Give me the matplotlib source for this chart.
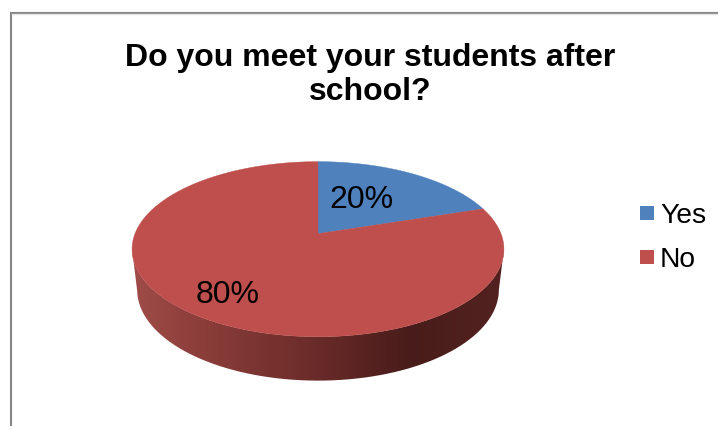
import numpy as np
import matplotlib
matplotlib.use('Agg')
import matplotlib.pyplot as plt
from matplotlib.colors import LinearSegmentedColormap
from matplotlib.patches import PathPatch, Polygon, Rectangle
from matplotlib.path import Path

plt.rcParams['font.family'] = ['Liberation Sans', 'DejaVu Sans']

# data
title = 'Do you meet your students after\nschool?'
labels = ['Yes', 'No']
values = [20, 80]
colors = ['#4F81BD', '#BE4F4C']

# pie geometry in pixels, y goes down
cx, cy = 318, 234.7
k = 0.177


def project(theta, b, a, y0):
    # theta clockwise from the top, v points to the back of the pie
    u = np.sin(theta)
    v = np.cos(theta)
    w = 1 + k * v
    return cx + b * u / w, y0 - a * v / w


fig = plt.figure(figsize=(7.18, 4.27), dpi=100)
ax = fig.add_axes([0, 0, 1, 1])

# chart border
ax.plot([10.5, 10.5, 718], [427, 13.5, 13.5], color='#868686', lw=1.5, solid_joinstyle='miter')
ax.plot([12, 718], [15, 15], color='#e4e4e4', lw=1)

# side wall, front part only
t0 = np.arccos(-k)
front = np.linspace(t0, 2 * np.pi - t0, 300)
x1, y1 = project(front, 183, 84.8, cy)
x2, y2 = project(front, 178, 88, cy + 40)
wall = np.column_stack([np.r_[x1, x2[::-1]], np.r_[y1, y2[::-1]]])
wall_cmap = LinearSegmentedColormap.from_list('wall', [
    (0.0, '#A04C48'), (0.18, '#8C3E3A'), (0.45, '#6F2E2C'),
    (0.75, '#481C1A'), (1.0, '#532220')])
grad = np.linspace(0, 1, 256).reshape(1, -1)
im = ax.imshow(grad, cmap=wall_cmap, extent=[132, 504, 382, 240], aspect='auto', zorder=2)
im.set_clip_path(PathPatch(Path(wall), transform=ax.transData))

# top of the pie
start = 0
for val, col in zip(values, colors):
    end = start + val / sum(values) * 2 * np.pi
    th = np.linspace(start, end, 200)
    x, y = project(th, 183, 84.8, cy)
    pts = np.column_stack([np.r_[cx, x], np.r_[cy, y]])
    ax.add_patch(Polygon(pts, closed=True, facecolor=col, edgecolor=col, lw=0.3, zorder=3))
    start = end

# data labels
ax.text(361.5, 200, '%d%%' % values[0], fontsize=23, ha='center', va='center', zorder=4)
ax.text(227.5, 295, '%d%%' % values[1], fontsize=23, ha='center', va='center', zorder=4)

# title
ax.text(370, 75, title, fontsize=23, fontweight='bold', ha='center', va='center',
        linespacing=1.19, zorder=4)

# legend
for i, (lab, col) in enumerate(zip(labels, colors)):
    ypos = 214 + i * 44
    ax.add_patch(Rectangle((640, ypos - 7), 14, 14, facecolor=col, edgecolor='none', zorder=4))
    ax.text(660, ypos + 2.5, lab, fontsize=20.3, ha='left', va='center', zorder=4)

ax.set_xlim(0, 718)
ax.set_ylim(427, 0)
ax.axis('off')
fig.savefig('out.png', dpi=100)
